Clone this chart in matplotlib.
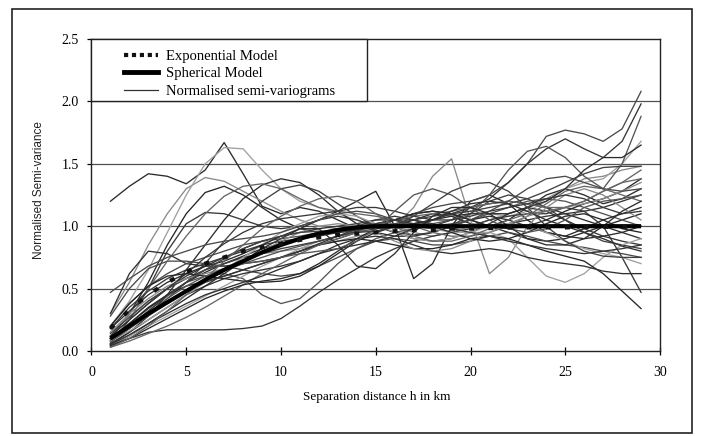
import matplotlib
matplotlib.use("Agg")
import matplotlib.pyplot as plt
from matplotlib.lines import Line2D
from matplotlib.patches import Rectangle

# ---------------- data ----------------
h_km = list(range(1, 30))

exponential_model = [0.18, 0.33, 0.45, 0.55, 0.63, 0.70, 0.75, 0.80, 0.83, 0.86,
                     0.89, 0.91, 0.93, 0.94, 0.95, 0.96, 0.97, 0.97, 0.98, 0.98,
                     0.985, 0.99, 0.99, 0.99, 0.99, 0.995, 0.995, 0.995, 0.997]
spherical_model = [0.10, 0.20, 0.30, 0.39, 0.48, 0.57, 0.65, 0.72, 0.79, 0.85,
                   0.90, 0.94, 0.97, 0.99, 1.00, 1.00, 1.00, 1.00, 1.00, 1.00,
                   1.00, 1.00, 1.00, 1.00, 1.00, 1.00, 1.00, 1.00, 1.00]

semi_variograms = [
    [1.20, 1.32, 1.42, 1.40, 1.34, 1.45, 1.67, 1.42, 1.16, 1.10, 1.15, 1.12, 1.05, 0.98, 0.95, 1.00, 1.05, 1.10, 1.08, 1.02, 1.00, 1.05, 1.15, 1.25, 1.30, 1.25, 1.18, 1.22, 1.30],
    [0.30, 0.55, 0.85, 1.10, 1.30, 1.39, 1.36, 1.28, 1.20, 1.12, 1.05, 1.00, 0.98, 1.00, 1.02, 1.00, 0.95, 0.92, 0.95, 1.00, 1.05, 1.10, 1.15, 1.22, 1.30, 1.38, 1.40, 1.45, 1.48],
    [0.20, 0.40, 0.65, 0.95, 1.25, 1.50, 1.63, 1.62, 1.45, 1.30, 1.20, 1.15, 1.10, 1.05, 1.00, 0.98, 1.00, 1.05, 1.10, 1.12, 1.10, 1.08, 1.12, 1.20, 1.30, 1.35, 1.38, 1.50, 1.68],
    [0.10, 0.30, 0.55, 0.85, 1.10, 1.27, 1.32, 1.25, 1.15, 1.05, 0.98, 0.95, 0.95, 0.97, 1.00, 1.05, 1.10, 1.12, 1.10, 1.05, 1.00, 0.95, 0.90, 0.88, 0.90, 0.95, 1.00, 1.05, 1.10],
    [0.06, 0.25, 0.50, 0.80, 1.02, 1.11, 1.10, 1.05, 1.00, 0.98, 1.00, 1.05, 1.08, 1.05, 1.00, 0.95, 0.90, 0.88, 0.90, 0.95, 1.02, 1.10, 1.15, 1.12, 1.05, 0.98, 0.92, 0.88, 0.85],
    [0.30, 0.62, 0.80, 0.78, 0.70, 0.68, 0.68, 0.70, 0.72, 0.75, 0.80, 0.85, 0.90, 0.95, 0.98, 1.00, 1.02, 1.05, 1.10, 1.15, 1.18, 1.20, 1.18, 1.15, 1.10, 1.05, 1.00, 0.95, 0.90],
    [0.28, 0.50, 0.66, 0.72, 0.72, 0.70, 0.68, 0.65, 0.62, 0.60, 0.62, 0.68, 0.75, 0.82, 0.88, 0.90, 0.88, 0.85, 0.85, 0.88, 0.92, 0.95, 0.92, 0.88, 0.85, 0.83, 0.80, 0.78, 0.75],
    [0.05, 0.10, 0.15, 0.17, 0.17, 0.17, 0.17, 0.18, 0.20, 0.26, 0.36, 0.47, 0.57, 0.66, 0.75, 0.82, 0.88, 0.92, 0.95, 0.98, 1.00, 1.02, 1.05, 1.08, 1.10, 1.12, 1.15, 1.20, 1.25],
    [0.10, 0.20, 0.32, 0.45, 0.55, 0.60, 0.62, 0.58, 0.45, 0.38, 0.42, 0.55, 0.70, 0.82, 0.90, 0.95, 0.98, 1.00, 1.02, 1.05, 1.10, 1.15, 1.20, 1.22, 1.20, 1.15, 1.10, 1.05, 1.00],
    [0.05, 0.15, 0.28, 0.45, 0.65, 0.85, 1.05, 1.22, 1.33, 1.38, 1.35, 1.25, 1.12, 1.02, 0.95, 0.92, 0.92, 0.95, 1.00, 1.05, 1.08, 1.05, 1.00, 0.95, 0.92, 0.90, 0.92, 0.95, 1.00],
    [0.08, 0.18, 0.30, 0.42, 0.55, 0.70, 0.88, 1.05, 1.20, 1.30, 1.33, 1.28, 1.18, 1.08, 1.00, 0.95, 0.93, 0.95, 1.00, 1.10, 1.20, 1.25, 1.22, 1.15, 1.05, 0.95, 0.88, 0.85, 0.82],
    [0.12, 0.30, 0.50, 0.72, 0.92, 1.10, 1.24, 1.32, 1.34, 1.30, 1.22, 1.15, 1.12, 1.10, 1.08, 1.05, 1.00, 0.95, 0.92, 0.92, 0.95, 1.00, 1.08, 1.18, 1.28, 1.32, 1.30, 1.25, 1.20],
    [0.04, 0.12, 0.22, 0.32, 0.42, 0.52, 0.62, 0.72, 0.82, 0.90, 0.98, 1.05, 1.12, 1.20, 1.28, 1.00, 0.58, 0.70, 1.00, 1.20, 1.25, 1.18, 1.05, 0.95, 0.92, 0.98, 1.05, 1.10, 1.15],
    [0.15, 0.28, 0.40, 0.50, 0.58, 0.65, 0.70, 0.75, 0.78, 0.80, 0.82, 0.85, 0.88, 0.92, 0.95, 1.00, 1.15, 1.40, 1.54, 1.05, 0.62, 0.75, 1.00, 1.15, 1.25, 1.30, 1.25, 1.15, 1.05],
    [0.05, 0.12, 0.20, 0.28, 0.36, 0.44, 0.52, 0.60, 0.68, 0.75, 0.82, 0.88, 0.92, 0.95, 0.98, 1.00, 1.00, 0.98, 0.95, 0.95, 0.95, 0.90, 0.75, 0.60, 0.55, 0.62, 0.75, 0.85, 0.90],
    [0.10, 0.22, 0.35, 0.45, 0.52, 0.56, 0.60, 0.65, 0.70, 0.75, 0.80, 0.85, 0.88, 0.90, 0.88, 0.85, 0.82, 0.82, 0.85, 0.90, 0.92, 0.90, 0.85, 0.80, 0.76, 0.72, 0.62, 0.48, 0.34],
    [0.18, 0.35, 0.48, 0.58, 0.65, 0.70, 0.75, 0.80, 0.85, 0.88, 0.90, 0.92, 0.95, 1.00, 1.05, 1.08, 1.05, 1.00, 0.98, 1.00, 1.05, 1.08, 1.10, 1.10, 1.15, 1.12, 1.00, 0.75, 0.47],
    [0.06, 0.15, 0.25, 0.35, 0.45, 0.52, 0.58, 0.62, 0.65, 0.68, 0.72, 0.78, 0.85, 0.90, 0.92, 0.90, 0.85, 0.80, 0.78, 0.80, 0.82, 0.80, 0.75, 0.72, 0.70, 0.68, 0.64, 0.62, 0.62],
    [0.20, 0.38, 0.52, 0.62, 0.70, 0.75, 0.80, 0.85, 0.88, 0.90, 0.92, 0.95, 0.98, 1.00, 1.02, 1.05, 1.10, 1.15, 1.18, 1.20, 1.25, 1.35, 1.50, 1.72, 1.77, 1.74, 1.68, 1.78, 2.08],
    [0.12, 0.25, 0.38, 0.50, 0.60, 0.68, 0.75, 0.82, 0.88, 0.92, 0.95, 0.98, 1.00, 1.02, 1.05, 1.05, 1.02, 1.00, 1.05, 1.15, 1.22, 1.35, 1.50, 1.62, 1.70, 1.62, 1.55, 1.68, 1.98],
    [0.08, 0.18, 0.28, 0.38, 0.48, 0.56, 0.64, 0.70, 0.75, 0.80, 0.84, 0.88, 0.92, 0.95, 0.98, 1.00, 1.02, 1.02, 1.05, 1.10, 1.25, 1.45, 1.60, 1.64, 1.55, 1.40, 1.30, 1.50, 1.88],
    [0.10, 0.22, 0.34, 0.45, 0.55, 0.63, 0.70, 0.76, 0.82, 0.86, 0.90, 0.93, 0.95, 0.97, 0.98, 1.00, 1.02, 1.05, 1.08, 1.10, 1.10, 1.10, 1.15, 1.20, 1.30, 1.45, 1.55, 1.55, 1.65],
    [0.14, 0.27, 0.40, 0.50, 0.58, 0.65, 0.70, 0.75, 0.78, 0.82, 0.85, 0.88, 0.92, 0.96, 1.00, 1.02, 1.05, 1.08, 1.10, 1.12, 1.15, 1.18, 1.22, 1.28, 1.35, 1.42, 1.47, 1.48, 1.48],
    [0.03, 0.08, 0.14, 0.20, 0.27, 0.35, 0.44, 0.53, 0.62, 0.70, 0.78, 0.85, 0.90, 0.95, 1.00, 1.05, 1.08, 1.10, 1.12, 1.15, 1.18, 1.20, 1.18, 1.15, 1.15, 1.20, 1.28, 1.35, 1.45],
    [0.04, 0.10, 0.18, 0.26, 0.34, 0.42, 0.48, 0.53, 0.56, 0.58, 0.62, 0.70, 0.80, 0.90, 0.98, 1.05, 1.10, 1.12, 1.10, 1.05, 1.00, 0.98, 1.00, 1.05, 1.12, 1.18, 1.22, 1.28, 1.38],
    [0.15, 0.30, 0.42, 0.52, 0.58, 0.62, 0.66, 0.72, 0.80, 0.88, 0.95, 1.00, 1.02, 1.00, 0.95, 0.88, 0.82, 0.80, 0.82, 0.88, 0.95, 1.02, 1.08, 1.12, 1.15, 1.18, 1.22, 1.28, 1.35],
    [0.08, 0.16, 0.25, 0.35, 0.45, 0.55, 0.65, 0.75, 0.85, 0.95, 1.02, 1.08, 1.10, 1.08, 1.02, 0.95, 0.90, 0.88, 0.90, 0.95, 1.00, 1.02, 1.00, 0.95, 0.88, 0.82, 0.78, 0.75, 0.70],
    [0.20, 0.38, 0.52, 0.60, 0.62, 0.60, 0.58, 0.56, 0.55, 0.56, 0.60, 0.68, 0.78, 0.88, 0.95, 1.00, 1.02, 1.00, 0.95, 0.90, 0.88, 0.90, 0.95, 1.02, 1.08, 1.10, 1.05, 0.98, 0.95],
    [0.12, 0.25, 0.38, 0.50, 0.62, 0.75, 0.86, 0.95, 1.02, 1.06, 1.08, 1.10, 1.12, 1.15, 1.15, 1.12, 1.08, 1.05, 1.05, 1.08, 1.12, 1.15, 1.18, 1.22, 1.25, 1.22, 1.15, 1.10, 1.12],
    [0.05, 0.13, 0.22, 0.30, 0.38, 0.45, 0.50, 0.55, 0.60, 0.66, 0.72, 0.78, 0.82, 0.85, 0.88, 0.92, 0.98, 1.05, 1.12, 1.18, 1.20, 1.18, 1.12, 1.05, 1.00, 0.95, 0.90, 0.84, 0.80],
    [0.47, 0.58, 0.68, 0.75, 0.80, 0.85, 0.88, 0.90, 0.92, 0.95, 1.00, 1.05, 1.10, 1.12, 1.10, 1.05, 1.00, 0.98, 1.00, 1.05, 1.12, 1.20, 1.30, 1.38, 1.40, 1.35, 1.30, 1.28, 1.30],
    [0.10, 0.20, 0.30, 0.40, 0.48, 0.55, 0.60, 0.65, 0.70, 0.75, 0.80, 0.86, 0.92, 0.98, 1.02, 1.05, 1.05, 1.02, 0.98, 0.95, 0.92, 0.88, 0.85, 0.82, 0.80, 0.78, 0.80, 0.82, 0.85],
    [0.07, 0.18, 0.30, 0.42, 0.52, 0.60, 0.66, 0.70, 0.72, 0.75, 0.78, 0.80, 0.82, 0.88, 0.98, 1.12, 1.25, 1.30, 1.25, 1.15, 1.05, 0.98, 0.95, 0.98, 1.05, 1.15, 1.20, 1.22, 1.25],
    [0.18, 0.32, 0.45, 0.55, 0.62, 0.68, 0.72, 0.78, 0.85, 0.92, 0.98, 0.98, 0.85, 0.68, 0.66, 0.78, 0.95, 1.08, 1.15, 1.15, 1.10, 1.00, 0.90, 0.85, 0.85, 0.90, 1.00, 1.12, 1.20],
    [0.09, 0.20, 0.32, 0.44, 0.55, 0.65, 0.74, 0.82, 0.88, 0.92, 0.95, 0.96, 0.96, 0.95, 0.96, 1.00, 1.08, 1.18, 1.28, 1.34, 1.35, 1.28, 1.15, 1.00, 0.88, 0.80, 0.76, 0.75, 0.75],
    [0.03, 0.10, 0.20, 0.32, 0.45, 0.58, 0.72, 0.85, 0.98, 1.08, 1.16, 1.22, 1.24, 1.20, 1.10, 1.00, 0.92, 0.88, 0.88, 0.92, 0.98, 1.05, 1.10, 1.12, 1.15, 1.20, 1.28, 1.35, 1.38],
]

legend_labels = ["Exponential Model", "Spherical Model", "Normalised semi-variograms"]
x_label = "Separation distance h in km"
y_label = "Normalised Semi-variance"

# ---------------- style ----------------
line_greys = ["#2a2a2a", "#8a8a8a", "#a0a0a0", "#262626", "#383838", "#303030",
              "#4a4a4a", "#353535", "#555555", "#2c2c2c", "#404040", "#666666"]

serif = ["Liberation Serif", "DejaVu Serif"]
sans = ["Liberation Sans", "DejaVu Sans"]

fig = plt.figure(figsize=(7.03, 4.36), dpi=100)
ax = fig.add_axes([91.5 / 703, 1 - 351 / 436, (660 - 91.5) / 703, (351 - 39) / 436])

for i, series in enumerate(semi_variograms):
    ax.plot(h_km, series, color=line_greys[i % len(line_greys)], lw=0.95, zorder=2)

ax.plot(h_km, spherical_model, color="black", lw=3.0, zorder=4, solid_capstyle="butt")
ax.plot(h_km, exponential_model, color="#111111", lw=3.0, zorder=5,
        linestyle=(0, (1.2, 3.4)), dash_capstyle="butt")

ax.set_xlim(0, 30)
ax.set_ylim(0, 2.5)
ax.set_xticks([0, 5, 10, 15, 20, 25, 30])
ax.set_yticks([0.0, 0.5, 1.0, 1.5, 2.0, 2.5])
ax.set_yticklabels(["0.0", "0.5", "1.0", "1.5", "2.0", "2.5"])
for gy in [0.5, 1.0, 1.5, 2.0]:
    ax.axhline(gy, color="#505050", lw=0.9, zorder=1)

for s in ax.spines.values():
    s.set_color("#222222")
    s.set_linewidth(1.0)
ax.tick_params(axis="x", direction="inout", length=6, width=0.9, pad=8, labelsize=10)
ax.tick_params(axis="y", direction="out", length=3, width=0.9, pad=6, labelsize=10)
for lab in ax.get_xticklabels() + ax.get_yticklabels():
    lab.set_family(serif)

ax.set_xlabel(x_label, family=serif, fontsize=9.5)
ax.xaxis.set_label_coords(0.502, -0.128)
ax.set_ylabel(y_label, family=sans, fontsize=8.5, color="#222222")
ax.yaxis.set_label_coords(-0.081, 0.515)

# legend box (frame covering the top-left cell of the plot)
ax.add_patch(Rectangle((0, 2.0), 14.52, 0.5, fill=True, facecolor="white",
                       edgecolor="#222222", lw=1.0, zorder=6, clip_on=False))
handles = [
    Line2D([], [], color="#111111", lw=3.0, linestyle=(0, (1.0, 0.9)), dash_capstyle="butt"),
    Line2D([], [], color="black", lw=3.5),
    Line2D([], [], color="#333333", lw=0.9),
]
leg = ax.legend(handles, legend_labels, loc="upper left", bbox_to_anchor=(0.058, 0.966),
                frameon=False, prop={"family": serif, "size": 10.5},
                handlelength=2.3, handletextpad=0.55, labelspacing=0.29,
                borderpad=0.0, borderaxespad=0.0)
leg.set_zorder(7)

# outer frame around whole figure
fig.add_artist(Rectangle((12 / 703, 3 / 436), (692 - 12) / 703, (427 - 3) / 436,
                         transform=fig.transFigure, fill=False, edgecolor="#222222", lw=1.2))

fig.savefig("out.png", dpi=100)
